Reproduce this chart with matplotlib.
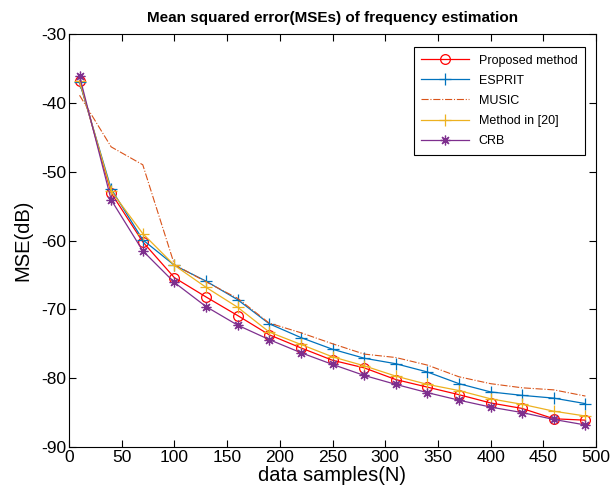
import matplotlib
matplotlib.use("Agg")
import matplotlib.pyplot as plt

plt.rcParams['font.family'] = ['Liberation Sans', 'DejaVu Sans']
plt.rcParams['axes.unicode_minus'] = False

samples = [10, 40, 70, 100, 130, 160, 190, 220, 250, 280, 310, 340, 370, 400, 430, 460, 490]
proposed = [-36.8, -53.1, -60.2, -65.4, -68.2, -70.9, -73.7, -75.6, -77.4, -78.5, -80.2, -81.3, -82.4, -83.6, -84.4, -85.9, -86.1]
esprit = [-37.0, -52.5, -59.9, -63.6, -65.9, -68.6, -72.1, -74.1, -75.8, -77.1, -77.9, -79.1, -80.8, -82.0, -82.5, -82.9, -83.7]
music = [-38.9, -46.4, -49.0, -63.5, -66.0, -68.4, -72.0, -73.4, -75.0, -76.5, -77.0, -78.1, -79.8, -80.8, -81.4, -81.7, -82.6]
method20 = [-36.8, -52.8, -59.0, -63.6, -66.8, -69.7, -73.3, -75.1, -76.9, -78.2, -79.7, -80.9, -81.8, -83.0, -83.8, -84.8, -85.5]
crb = [-36.1, -54.1, -61.5, -66.1, -69.6, -72.3, -74.4, -76.3, -78.0, -79.6, -80.9, -82.1, -83.2, -84.2, -85.0, -86.0, -86.8]

fig = plt.figure(figsize=(6.13, 4.94), dpi=100)
ax = fig.add_axes([69/613, 1-447/494, (596-69)/613, (447-34)/494])

lw = 0.9
ax.plot(samples, proposed, color='#FF0000', lw=lw, marker='o', ms=7, mfc='none', mew=0.9, label='Proposed method')
ax.plot(samples, esprit, color='#0072BD', lw=lw, marker='+', ms=8, mew=0.9, label='ESPRIT')
ax.plot(samples, music, color='#D95319', lw=0.8, ls='-.', label='MUSIC')
ax.plot(samples, method20, color='#EDB120', lw=lw, marker='+', ms=8, mew=0.9, label='Method in [20]')
ax.plot(samples, crb, color='#7E2F8E', lw=lw, marker=(8, 2, 0), ms=7, mew=0.9, label='CRB')

ax.set_xlim(0, 500)
ax.set_ylim(-90, -30)
ax.set_xticks(range(0, 501, 50))
ax.set_yticks(range(-90, -29, 10))
ax.tick_params(direction='in', top=True, right=True, labelsize=12.5, length=5, width=0.8, pad=2)
for s in ax.spines.values():
    s.set_linewidth(0.8)
ax.set_xlabel('data samples(N)', fontsize=14.5, labelpad=1)
ax.set_ylabel('MSE(dB)', fontsize=14.5, labelpad=6)
ax.set_title('Mean squared error(MSEs) of frequency estimation', fontsize=11, fontweight='bold', pad=9)

leg = ax.legend(loc='upper right', bbox_to_anchor=(0.979, 0.9685), fontsize=9, fancybox=False,
                edgecolor='black', framealpha=1, borderpad=0.6, labelspacing=0.65,
                handlelength=3.8, handletextpad=0.8, borderaxespad=0)
leg.get_frame().set_linewidth(0.8)

fig.savefig('out.png', dpi=100)
